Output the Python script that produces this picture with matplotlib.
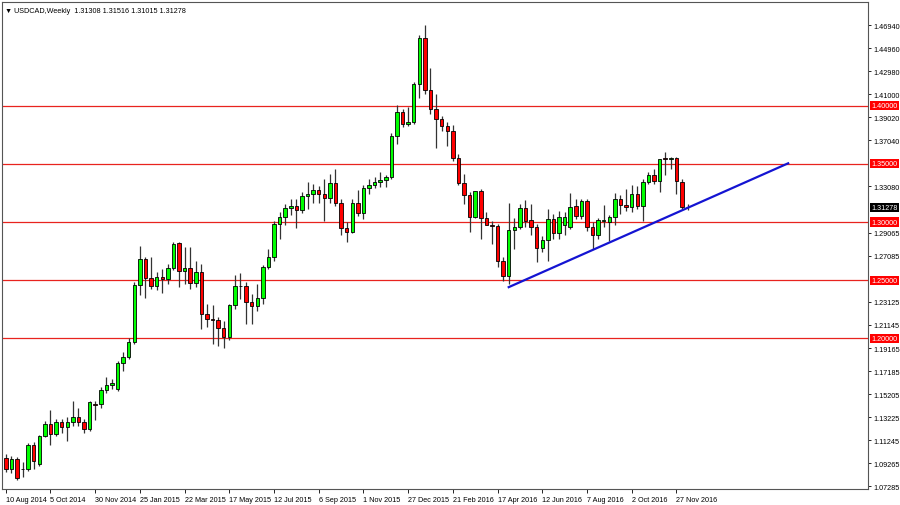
import matplotlib
matplotlib.use("Agg")
import matplotlib.pyplot as plt
import matplotlib.transforms as mtransforms
from matplotlib import font_manager
import numpy as np

opens = [1.0970,1.0876,1.0962,1.0876,1.0876,1.1082,1.0919,1.1159,1.1263,1.1177,
         1.1280,1.1237,1.1280,1.1323,1.1280,1.1220,1.1434,1.1434,1.1555,1.1598,
         1.1564,1.1787,1.1839,1.1968,1.2458,1.2682,1.2518,1.2449,1.2527,1.2510,
         1.2604,1.2819,1.2578,1.2604,1.2475,1.2570,1.2209,1.2166,1.2157,1.2088,
         1.2011,1.2286,1.2449,1.2449,1.2312,1.2277,1.2346,1.2613,1.2699,1.2983,
         1.3043,1.3120,1.3137,1.3103,1.3223,1.3240,1.3275,1.3240,1.3206,1.3335,
         1.3165,1.2948,1.2914,1.3165,1.3077,1.3292,1.3318,1.3344,1.3361,1.3387,
         1.3739,1.3946,1.3843,1.3860,1.4187,1.4582,1.4135,1.3972,1.3886,1.3825,
         1.3782,1.3550,1.3335,1.3232,1.3043,1.3266,1.3034,1.2974,1.2965,1.2664,
         1.2535,1.2931,1.2957,1.3120,1.3017,1.2957,1.2776,1.2845,1.3026,1.2905,
         1.2974,1.2957,1.3137,1.3051,1.3180,1.2957,1.2888,1.3009,1.3000,1.3043,
         1.3198,1.3146,1.3129,1.3240,1.3137,1.3344,1.3404,1.3352,1.3548,1.3539,
         1.3548,1.3344,1.31308]
highs = [1.1005,1.0987,1.0979,1.0936,1.1099,1.1108,1.1168,1.1288,1.1383,1.1306,
         1.1306,1.1323,1.1460,1.1400,1.1306,1.1460,1.1460,1.1581,1.1667,1.1650,
         1.1804,1.1882,1.2002,1.2484,1.2793,1.2699,1.2699,1.2570,1.2596,1.2639,
         1.2828,1.2828,1.2785,1.2785,1.2664,1.2639,1.2295,1.2286,1.2183,1.2149,
         1.2295,1.2544,1.2561,1.2484,1.2380,1.2467,1.2630,1.2768,1.3009,1.3086,
         1.3155,1.3198,1.3198,1.3258,1.3344,1.3327,1.3310,1.3370,1.3413,1.3456,
         1.3198,1.3000,1.3198,1.3275,1.3318,1.3370,1.3387,1.3430,1.3404,1.3765,
         1.4006,1.3972,1.3989,1.4204,1.4608,1.4694,1.4324,1.4101,1.3911,1.3860,
         1.3834,1.3585,1.3413,1.3258,1.3266,1.3284,1.3086,1.3009,1.2983,1.2699,
         1.3163,1.3034,1.3155,1.3189,1.3155,1.2983,1.2880,1.3112,1.3069,1.3094,
         1.3086,1.3249,1.3198,1.3198,1.3198,1.3000,1.3034,1.3146,1.3060,1.3249,
         1.3232,1.3284,1.3318,1.3310,1.3370,1.3430,1.3456,1.3542,1.3600,1.3560,
         1.3560,1.3370,1.31516]
lows = [1.0850,1.0841,1.0781,1.0807,1.0858,1.0876,1.0901,1.1151,1.1082,1.1159,
        1.1185,1.1116,1.1246,1.1246,1.1185,1.1202,1.1297,1.1400,1.1529,1.1564,
        1.1546,1.1718,1.1822,1.1951,1.2372,1.2346,1.2424,1.2415,1.2389,1.2467,
        1.2587,1.2441,1.2467,1.2424,1.2441,1.2080,1.2097,1.1951,1.1933,1.1916,
        1.1985,1.2252,1.2338,1.2123,1.2123,1.2235,1.2295,1.2596,1.2664,1.2854,
        1.2974,1.3060,1.2948,1.3077,1.3112,1.3163,1.3163,1.3009,1.3165,1.3137,
        1.2888,1.2828,1.2905,1.3051,1.3026,1.3240,1.3292,1.3301,1.3301,1.3370,
        1.3670,1.3817,1.3825,1.3843,1.4066,1.4101,1.3929,1.3636,1.3782,1.3653,
        1.3524,1.3318,1.3155,1.2914,1.3034,1.2854,1.2983,1.2811,1.2613,1.2492,
        1.2467,1.2768,1.2940,1.2957,1.2888,1.2655,1.2741,1.2664,1.2854,1.2854,
        1.2888,1.2940,1.3026,1.3026,1.2922,1.2768,1.2854,1.2957,1.2836,1.2974,
        1.3069,1.3094,1.3086,1.3112,1.3009,1.3327,1.3327,1.3258,1.3404,1.3456,
        1.3240,1.3112,1.31015]
closes = [1.0876,1.0962,1.0798,1.0876,1.1082,1.0944,1.1159,1.1263,1.1177,1.1280,
          1.1237,1.1280,1.1323,1.1280,1.1220,1.1452,1.1430,1.1555,1.1598,1.1615,
          1.1787,1.1839,1.1968,1.2458,1.2682,1.2518,1.2449,1.2527,1.2510,1.2604,
          1.2811,1.2578,1.2604,1.2475,1.2570,1.2209,1.2166,1.2157,1.2088,1.2011,
          1.2286,1.2449,1.2452,1.2312,1.2277,1.2346,1.2613,1.2699,1.2983,1.3043,
          1.3120,1.3137,1.3103,1.3223,1.3240,1.3275,1.3240,1.3206,1.3335,1.3165,
          1.2948,1.2914,1.3165,1.3077,1.3292,1.3318,1.3344,1.3361,1.3387,1.3739,
          1.3946,1.3843,1.3860,1.4187,1.4582,1.4135,1.3972,1.3886,1.3825,1.3782,
          1.3550,1.3335,1.3232,1.3043,1.3266,1.3034,1.2974,1.2970,1.2664,1.2535,
          1.2931,1.2957,1.3120,1.3009,1.2957,1.2776,1.2845,1.3026,1.2905,1.3043,
          1.3043,1.3129,1.3051,1.3180,1.2957,1.2888,1.3017,1.3017,1.3043,1.3198,
          1.3146,1.3129,1.3240,1.3137,1.3344,1.3404,1.3352,1.3539,1.3539,1.3548,
          1.3352,1.3129,1.31278]

level_lines = [1.40, 1.35, 1.30, 1.25, 1.20]
level_labels = ["1.40000", "1.35000", "1.30000", "1.25000", "1.20000"]
price_ticks = [1.46940,1.44960,1.42980,1.41000,1.39020,1.37040,1.33080,1.29065,
               1.27085,1.23125,1.21145,1.19165,1.17185,1.15205,1.13225,1.11245,
               1.09265,1.07285]
date_labels = ["10 Aug 2014","5 Oct 2014","30 Nov 2014","25 Jan 2015","22 Mar 2015",
               "17 May 2015","12 Jul 2015","6 Sep 2015","1 Nov 2015","27 Dec 2015",
               "21 Feb 2016","17 Apr 2016","12 Jun 2016","7 Aug 2016","2 Oct 2016",
               "27 Nov 2016"]
date_idx = [0,8,16,24,32,40,48,56,64,72,80,88,96,104,112,120]
trend_x = [90, 140]
trend_y = [1.2440, 1.3505]
last_price = "1.31278"

names = {f.name for f in font_manager.fontManager.ttflist}
fam = "Liberation Sans Narrow" if "Liberation Sans Narrow" in names else "Liberation Sans"
plt.rcParams["font.family"] = [fam, "DejaVu Sans"]
FS = 5.2

fig = plt.figure(figsize=(9, 5.06), dpi=100)
ax = fig.add_axes([0.002, 0.0316, 0.9625, 0.9624])
n = len(closes)
x = np.arange(n)
o = np.array(opens); c = np.array(closes)
up = c >= o
ax.vlines(x, lows, highs, color="#333333", lw=0.9, zorder=2)
body_b = np.minimum(o, c)
body_h = np.maximum(np.abs(c - o), 0.0004)
ax.bar(x, body_h, bottom=body_b, width=0.62,
       color=np.where(up, "#00ff00", "#ff0000"), edgecolor="black", lw=0.6, zorder=3)

for lv in level_lines:
    ax.axhline(lv, color="#e8231e", lw=0.9, zorder=1)
ax.plot(trend_x, trend_y, color="#1414d2", lw=1.6, zorder=4)

ax.set_xlim(-0.71, 154.3)
ax.set_ylim(1.0704, 1.4892)
ax.yaxis.tick_right()
ax.set_yticks(price_ticks)
ax.set_yticklabels([f"{v:.5f}" for v in price_ticks], fontsize=FS)
ax.set_xticks(date_idx)
ax.set_xticklabels(date_labels, fontsize=FS, ha="left")
ax.tick_params(axis="y", length=2, width=0.6, pad=1.5)
ax.tick_params(axis="x", length=3, width=0.6, pad=2)
for s in ax.spines.values():
    s.set_linewidth(0.8); s.set_color("#555555")

tr = mtransforms.blended_transform_factory(ax.transAxes, ax.transData)
for lv, lab in zip(level_lines, level_labels):
    ax.text(1.004, lv, lab, transform=tr, fontsize=FS, color="white", va="center",
            ha="left", bbox=dict(boxstyle="square,pad=0.15", fc="#ff0000", ec="none"))
ax.text(1.004, float(last_price), last_price, transform=tr, fontsize=FS, color="white",
        va="center", ha="left", bbox=dict(boxstyle="square,pad=0.15", fc="black", ec="none"))

ax.text(0.004, 0.99, "\u25bc USDCAD,Weekly  1.31308 1.31516 1.31015 1.31278",
        transform=ax.transAxes, fontsize=FS, va="top", ha="left")

fig.savefig("out.png", dpi=100)
